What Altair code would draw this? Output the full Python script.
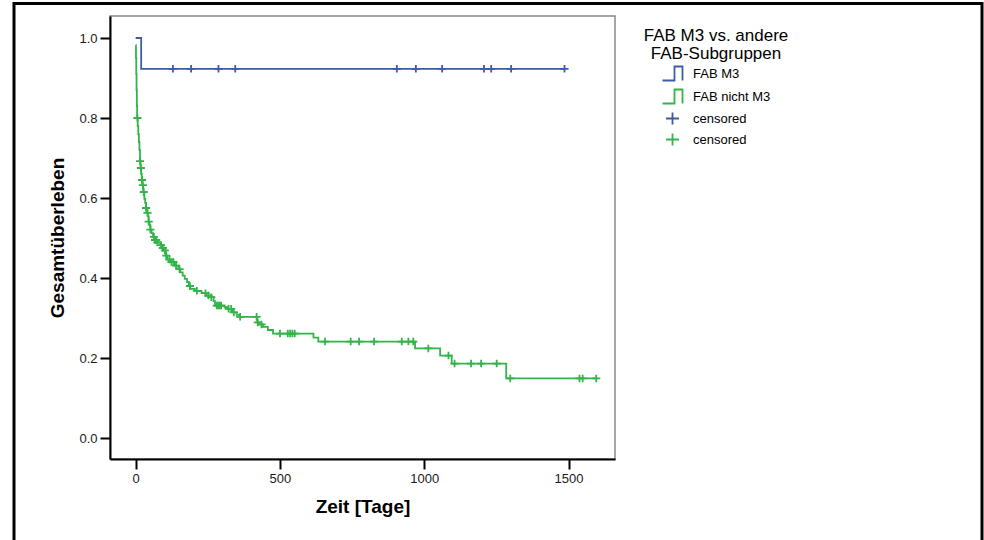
import altair as alt
import pandas as pd

# ---- data (Kaplan-Meier steps) ----
m3_time = [0, 19, 1486]
m3_surv = [1.0, 0.923, 0.923]
m3_cens = [129, 192, 287, 345, 905, 971, 1062, 1207, 1232, 1301, 1486]

nm3_time = [0, 1, 2, 3, 4, 5, 7, 9, 11, 13,
            15, 17, 19, 21, 23, 26, 30, 33, 36, 39,
            42, 45, 48, 51, 55, 60, 66, 75, 85, 92,
            98, 104, 110, 120, 135, 148, 155, 163, 170, 178,
            184, 189, 205, 228, 243, 262, 270, 275, 308, 320,
            337, 350, 360, 421, 426, 441, 458, 476, 616, 633,
            968, 1055, 1095, 1284, 1596]
nm3_surv = [0.982, 0.95, 0.91, 0.87, 0.83, 0.80, 0.78, 0.76, 0.74, 0.72,
            0.692, 0.675, 0.66, 0.645, 0.632, 0.615, 0.598, 0.588, 0.575, 0.563,
            0.554, 0.541, 0.532, 0.521, 0.512, 0.503, 0.495, 0.489, 0.482, 0.475,
            0.469, 0.456, 0.446, 0.440, 0.431, 0.422, 0.414, 0.406, 0.398, 0.39,
            0.38, 0.373, 0.368, 0.362, 0.356, 0.352, 0.342, 0.331, 0.327, 0.323,
            0.314, 0.308, 0.303, 0.289, 0.284, 0.278, 0.270, 0.261, 0.251, 0.241,
            0.224, 0.206, 0.186, 0.149, 0.149]
nm3_cens = [6, 15, 18, 22, 25, 28, 36, 41, 45, 51, 63, 67, 71, 75, 88, 94, 101,
            106, 117, 124, 131, 140, 152, 188, 212, 242, 252, 262, 281, 286, 291,
            296, 322, 331, 340, 362, 419, 423, 436, 500, 527, 535, 543, 551, 656,
            745, 774, 826, 922, 945, 962, 1014, 1084, 1105, 1162, 1197, 1251, 1298,
            1538, 1549, 1596]

keys = ["FAB M3", "FAB nicht M3", "censored (FAB M3)", "censored (FAB nicht M3)"]
BLUE = "#3D5BAB"
GREEN = "#33B44A"
colors = [BLUE, GREEN, BLUE, GREEN]
x_ticks = [0, 500, 1000, 1500]
y_ticks = [0.0, 0.2, 0.4, 0.6, 0.8, 1.0]

STEP = "M-1.053,0.737H0.21V-0.737H1.053V0.737"
CROSS = "M-0.684,0H0.684M0,-0.632V0.632"
shapes = [STEP, STEP, CROSS, CROSS]

# ---- tables ----
m3_df = pd.DataFrame({"t": m3_time, "s": m3_surv, "key": keys[0]})
nm3_df = pd.DataFrame({"t": nm3_time, "s": nm3_surv, "key": keys[1]})


def censored(times, ctimes, surv, key):
    steps = pd.DataFrame({"t": times, "s": surv}).sort_values("t")
    c = pd.DataFrame({"t": ctimes}).sort_values("t")
    m = pd.merge_asof(c, steps, on="t", direction="backward")
    m["key"] = key
    return m


cens_df = pd.concat([
    censored(m3_time, m3_cens, m3_surv, keys[2]),
    censored(nm3_time, nm3_cens, nm3_surv, keys[3]),
], ignore_index=True)

FONT = "Liberation Sans"

x_enc = alt.X("t:Q",
              scale=alt.Scale(domain=[-89, 1661], nice=False, zero=False),
              axis=alt.Axis(values=x_ticks, format="d", title="Zeit [Tage]",
                            titlePadding=12, grid=False))
y_enc = alt.Y("s:Q",
              scale=alt.Scale(domain=[-0.0525, 1.055], nice=False, zero=False),
              axis=alt.Axis(values=y_ticks, format=".1f", title="Gesamtüberleben",
                            titlePadding=11, grid=False))

color_scale = alt.Scale(domain=keys, range=colors)
shape_scale = alt.Scale(domain=keys, range=shapes)

legend = alt.Legend(
    title=["FAB M3 vs. andere", "FAB-Subgruppen"],
    orient="none", legendX=534, legendY=12,
    titleFontSize=17, titleFontWeight="normal", titleFont=FONT,
    titleAnchor="middle", titleAlign="center", titleLineHeight=18,
    titleColor="black", titlePadding=0,
    labelFont=FONT, labelFontSize=13, labelColor="black",
    labelExpr="replace(datum.label, / \\(.*\\)/, '')",
    symbolSize=361, symbolStrokeWidth=1.8, rowPadding=0, labelOffset=10,
)

line_m3 = alt.Chart(m3_df).mark_line(interpolate="step-after", strokeWidth=1.8, color=BLUE).encode(
    x=x_enc, y=y_enc, order="t:Q")
line_nm3 = alt.Chart(nm3_df).mark_line(interpolate="step-after", strokeWidth=1.8, color=GREEN).encode(
    x=x_enc, y=y_enc, order="t:Q")

points = alt.Chart(cens_df).mark_point(filled=False, strokeWidth=1.8, size=140, opacity=1).encode(
    x=x_enc, y=y_enc,
    color=alt.Color("key:N", scale=color_scale, legend=legend),
    shape=alt.Shape("key:N", scale=shape_scale, legend=legend),
)

frame = alt.Chart(pd.DataFrame({"a": [0]})).mark_rect(
    fillOpacity=0, stroke="black", strokeWidth=3
).encode(
    x=alt.value(-96), x2=alt.value(872), y=alt.value(-12.5), y2=alt.value(560)
)

chart = alt.layer(frame, line_m3, line_nm3, points).properties(
    width=505, height=443,
    padding={"left": 110, "top": 16, "right": 369, "bottom": 81},
    autosize="none", background="white",
).configure_view(
    stroke="#888888", strokeWidth=1.5
).configure_axis(
    grid=False, domainColor="black", domainWidth=2,
    tickColor="black", tickWidth=2, tickSize=10,
    labelFont=FONT, labelFontSize=13, labelColor="#1a1a1a", labelPadding=3,
    titleFont=FONT, titleFontSize=19, titleFontWeight="bold", titleColor="black",
)

chart.save("out.html", embed_options={"renderer": "svg", "actions": False})
